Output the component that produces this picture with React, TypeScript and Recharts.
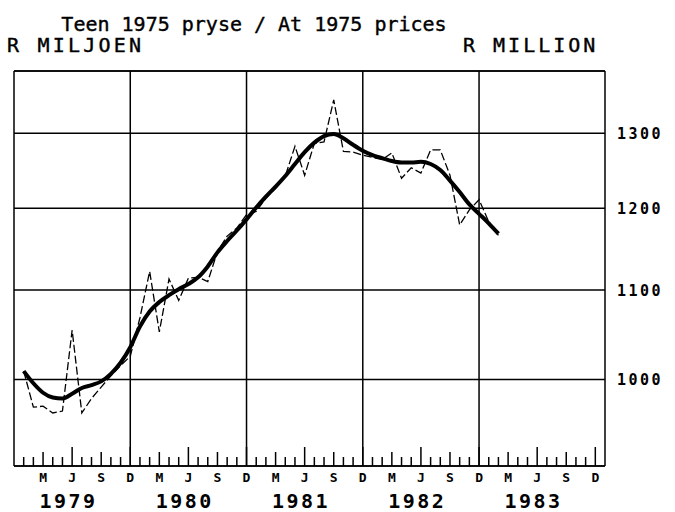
import React from "react";
import { LineChart, Line, XAxis, YAxis, CartesianGrid, ReferenceLine } from "recharts";

// Month index: 0 = Dec 1978, 1 = Jan 1979 ... 50 = Feb 1983
const monthIndex = [
  1, 2, 3, 4, 5, 6, 7, 8, 9, 10, 11, 12,
  13, 14, 15, 16, 17, 18, 19, 20, 21, 22, 23, 24,
  25, 26, 27, 28, 29, 30, 31, 32, 33, 34, 35, 36,
  37, 38, 39, 40, 41, 42, 43, 44, 45, 46, 47, 48,
  49, 50,
];

// Monthly values (dashed line), R million at 1975 prices
const actualValues = [
  1009, 971, 972, 965, 967, 1054, 965, 980, 992, 1004, 1015, 1025,
  1068, 1122, 1052, 1113, 1088, 1114, 1115, 1110, 1146, 1165, 1175, 1192,
  1196, 1213, 1226, 1242, 1282, 1243, 1286, 1288, 1347, 1275, 1274, 1270,
  1267, 1264, 1273, 1239, 1253, 1246, 1277, 1277, 1243, 1179, 1198, 1211,
  1183, 1166,
];

// Smoothed trend (thick line)
const trendValues = [
  1009, 996, 986, 981, 980, 985, 991, 994, 998, 1006, 1018, 1035,
  1058, 1075, 1086, 1094, 1101, 1107, 1115, 1128, 1145, 1159, 1172, 1186,
  1201, 1215, 1228, 1242, 1258, 1274, 1287, 1296, 1299, 1293, 1284, 1276,
  1270, 1266, 1262, 1260, 1260, 1261, 1258, 1250, 1236, 1221, 1205, 1193,
  1181, 1168,
];

const yTicks = [1000, 1100, 1200, 1300];
const yDomain: [number, number] = [912, 1389];
const xDomain: [number, number] = [0, 61];
const years = ["1979", "1980", "1981", "1982", "1983"];
const monthLetters: Record<number, string> = { 3: "M", 6: "J", 9: "S", 12: "D" };
const decemberLines = [12, 24, 36, 48];

const titleText = "Teen 1975 pryse / At 1975 prices";
const leftUnit = "R MILJOEN";
const rightUnit = "R MILLION";

const FONT = "'DejaVu Sans Mono', 'Liberation Mono', monospace";

const data = monthIndex.map((m, i) => ({
  m,
  actual: actualValues[i],
  trend: trendValues[i],
}));

const monthTicks = Array.from({ length: 60 }, (_, i) => i + 1);
const yearTicks = years.map((_, k) => 5.5 + 12 * k);
const xTicks = [...monthTicks, ...yearTicks];

const XTick = (props: any) => {
  const { x, y, payload } = props;
  const v = payload.value as number;
  if (!Number.isInteger(v)) {
    const k = Math.round((v - 5.5) / 12);
    return (
      <text
        x={x + 1.25}
        y={y + 42}
        textAnchor="middle"
        fontFamily={FONT}
        fontWeight="bold"
        fontSize={20}
        letterSpacing={2.5}
        fill="#000"
      >
        {years[k]}
      </text>
    );
  }
  const mm = ((v - 1) % 12) + 1;
  const len = mm % 6 === 0 ? 19 : mm % 3 === 0 ? 14 : 9;
  const letter = monthLetters[mm];
  return (
    <g>
      <line x1={x} x2={x} y1={y} y2={y - len} stroke="#000" strokeWidth={1.5} />
      {letter ? (
        <text
          x={x}
          y={y + 15.5}
          textAnchor="middle"
          fontFamily={FONT}
          fontWeight="bold"
          fontSize={13}
          fill="#000"
        >
          {letter}
        </text>
      ) : null}
    </g>
  );
};

const YTick = (props: any) => {
  const { x, y, payload } = props;
  return (
    <text
      x={x + 12}
      y={y + 5.5}
      textAnchor="start"
      fontFamily={FONT}
      fontWeight="bold"
      fontSize={15}
      letterSpacing={2.5}
      fill="#000"
    >
      {payload.value}
    </text>
  );
};

export default function App() {
  return (
    <div style={{ position: "absolute", left: 0, top: 0, width: 675, height: 512, background: "#fff" }}>
      <LineChart
        width={675}
        height={512}
        data={data}
        margin={{ top: 71, right: 0, bottom: 0, left: 14 }}
      >
        <CartesianGrid vertical={false} stroke="#000" strokeWidth={1.5} />
        <XAxis
          dataKey="m"
          type="number"
          domain={xDomain}
          ticks={xTicks}
          interval={0}
          height={46}
          tickSize={0}
          tickMargin={0}
          tickLine={false}
          axisLine={{ stroke: "#000", strokeWidth: 1.5 }}
          tick={<XTick />}
          allowDataOverflow
        />
        <YAxis
          orientation="right"
          type="number"
          scale="log"
          domain={yDomain}
          ticks={yTicks}
          allowDataOverflow
          width={70}
          tickSize={0}
          tickMargin={0}
          tickLine={false}
          axisLine={{ stroke: "#000", strokeWidth: 1.5 }}
          tick={<YTick />}
        />
        <ReferenceLine x={xDomain[0]} stroke="#000" strokeWidth={1.5} />
        <ReferenceLine y={yDomain[1]} stroke="#000" strokeWidth={1.5} />
        {decemberLines.map((d) => (
          <ReferenceLine key={d} x={d} stroke="#000" strokeWidth={1.5} />
        ))}
        <Line
          type="linear"
          dataKey="actual"
          stroke="#000"
          strokeWidth={1.3}
          strokeDasharray="8 3"
          dot={false}
          isAnimationActive={false}
        />
        <Line
          type="monotone"
          dataKey="trend"
          stroke="#000"
          strokeWidth={4}
          dot={false}
          isAnimationActive={false}
        />
      </LineChart>
      <svg
        width={675}
        height={512}
        style={{ position: "absolute", left: 0, top: 0, pointerEvents: "none" }}
      >
        <text x={254} y={31} textAnchor="middle" fontFamily={FONT} fontSize={20} fill="#000" stroke="#000" strokeWidth={0.4}>
          {titleText}
        </text>
        <text x={7} y={52} fontFamily={FONT} fontSize={20} letterSpacing={3.2} fill="#000" stroke="#000" strokeWidth={0.4}>
          {leftUnit}
        </text>
        <text x={463} y={52} fontFamily={FONT} fontSize={20} letterSpacing={3} fill="#000" stroke="#000" strokeWidth={0.4}>
          {rightUnit}
        </text>
      </svg>
    </div>
  );
}
